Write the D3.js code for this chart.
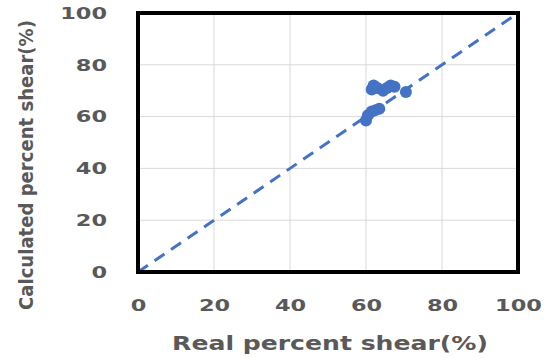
<!DOCTYPE html>
<html><head><meta charset="utf-8">
<script src="https://cdn.jsdelivr.net/npm/d3@7"></script>
<style>body{margin:0;background:#fff}</style>
</head><body>
<svg id="c" width="559" height="358"></svg>
<script>
const realShear = [60, 60.5, 61.5, 62.5, 63.5, 61.5, 62, 63, 64.5, 65.5, 66.5, 67.5, 70.5];
const calcShear = [58.5, 60.5, 62, 62.5, 63, 70.5, 72, 71, 70, 71, 72, 71.5, 69.5];
const xTicks = [0, 20, 40, 60, 80, 100];
const yTicks = [0, 20, 40, 60, 80, 100];
const xTitle = "Real percent shear(%)";
const yTitle = "Calculated percent shear(%)";

const svg = d3.select("#c");
const L = 138, R = 518, T = 13, B = 272;
const x = d3.scaleLinear().domain([0, 100]).range([L, R]);
const y = d3.scaleLinear().domain([0, 100]).range([B, T]);
const grey = "#595959";
const font = "'DejaVu Sans', sans-serif";

// gridlines
svg.append("g").selectAll("line.v").data(xTicks.slice(1, -1)).join("line")
  .attr("x1", d => x(d)).attr("x2", d => x(d)).attr("y1", T).attr("y2", B)
  .attr("stroke", "#d9d9d9").attr("stroke-width", 1);
svg.append("g").selectAll("line.h").data(yTicks.slice(1, -1)).join("line")
  .attr("y1", d => y(d)).attr("y2", d => y(d)).attr("x1", L).attr("x2", R)
  .attr("stroke", "#d9d9d9").attr("stroke-width", 1);

// axes (labels only)
const xAxis = svg.append("g").attr("transform", `translate(0,${B})`)
  .call(d3.axisBottom(x).tickValues(xTicks).tickSize(0).tickPadding(27));
const yAxis = svg.append("g").attr("transform", `translate(${L},0)`)
  .call(d3.axisLeft(y).tickValues(yTicks).tickSize(0).tickPadding(31));
[xAxis, yAxis].forEach(a => {
  a.select(".domain").remove();
  a.selectAll("text").attr("fill", grey).attr("font-family", font)
    .attr("font-weight", "bold").attr("font-size", 16.5)
    .attr("textLength", d => String(d).length * 15.6)
    .attr("lengthAdjust", "spacingAndGlyphs");
});

// diagonal dashed line
svg.append("line")
  .attr("x1", x(0)).attr("y1", y(0)).attr("x2", x(100)).attr("y2", y(100))
  .attr("stroke", "#4472C4").attr("stroke-width", 3).attr("stroke-dasharray", "12,8");

// frame
svg.append("rect").attr("x", L).attr("y", T).attr("width", R - L).attr("height", B - T)
  .attr("fill", "none").attr("stroke", "#000").attr("stroke-width", 4);

// points
svg.append("g").selectAll("circle").data(realShear.map((d, i) => [d, calcShear[i]])).join("circle")
  .attr("cx", d => x(d[0])).attr("cy", d => y(d[1])).attr("r", 6)
  .attr("fill", "#4472C4");

// titles
const xt = svg.append("text").attr("text-anchor", "middle")
  .attr("fill", grey).attr("font-family", font).attr("font-weight", "bold").attr("font-size", 20)
  .text(xTitle);
const xw = xt.node().getComputedTextLength();
xt.attr("transform", `translate(330,350) scale(${316 / xw},1)`);

const yt = svg.append("text").attr("text-anchor", "middle")
  .attr("fill", grey).attr("font-family", font).attr("font-weight", "bold").attr("font-size", 20)
  .text(yTitle);
const yw = yt.node().getComputedTextLength();
yt.attr("transform", `translate(33,165) rotate(-90) scale(${290 / yw},1)`);
</script>
</body></html>
